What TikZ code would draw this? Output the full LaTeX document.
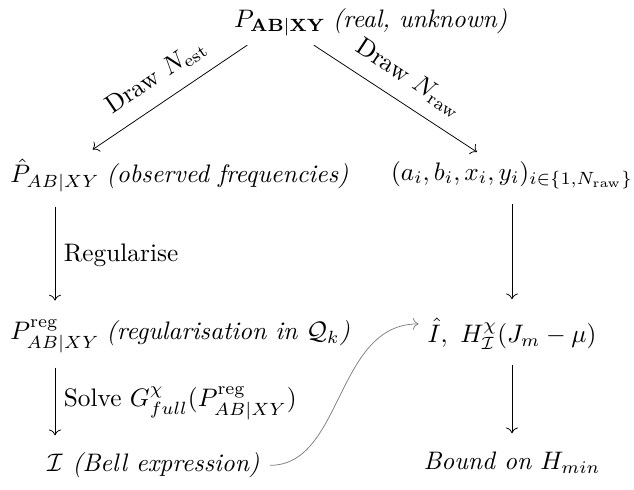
\documentclass[tikz,border=0pt]{standalone}
\usepackage{amsmath,amssymb}
\usepackage{tikz}
\usetikzlibrary{positioning,arrows.meta}

\tikzset{
  note/.style={anchor=base west, inner xsep=0pt, font=\itshape},
  flow/.style={->, line width=0.3pt},
  down/.style={flow, shorten <=2.5pt, shorten >=4pt},
  feedback/.style={->, gray, line width=0.3pt, shorten <=4pt},
}

\begin{document}
\begin{tikzpicture}[x=0.395pt,y=-0.395pt]
  \useasboundingbox (0,0) rectangle (634,489);

  \node (real) at (280,23) {$P_{\mathbf{AB|XY}}$};
  \node[note, xshift=-1pt] (realnote) at (real.base east) {(real, unknown)};

  \node (phat) at (55,175) {$\hat{P}_{AB|XY}$};
  \node[note, xshift=-1pt] (phatnote) at (phat.base east) {(observed frequencies)};
  \node (raw) at (512,175) {$(a_i,b_i,x_i,y_i)_{i\in\{1,N_{\mathrm{raw}}\}}$};

  \node (preg) at (55,336) {$P^{\mathrm{reg}}_{AB|XY}$};
  \node[note, xshift=-1pt] (pregnote) at (preg.base east) {(regularisation in $\mathcal{Q}_k$)};
  \node (ihat) at (512,334) {$\hat{I},\ H^{\chi}_{\mathcal{I}}(J_m-\mu)$};

  \node (bell) at (55,463) {$\mathcal{I}$};
  \node[note] (bellnote) at (bell.base east) {(Bell expression)};
  \node (bound) at (512,463) {\textit{Bound on} $H_{min}$};

  \draw[flow] (real) -- node[above=2pt, sloped] {Draw $N_{\mathrm{est}}$} (phat);
  \draw[flow] (real) -- node[above=2pt, sloped] {Draw $N_{\mathrm{raw}}$} (raw);
  \draw[down] (phat) -- node[right] {Regularise} (preg);
  \draw[down] (preg) -- node[right] {Solve $G^{\chi}_{full}(P^{\mathrm{reg}}_{AB|XY})$} (bell);
  \draw[down] (raw) -- (ihat);
  \draw[down] (ihat) -- (bound);
  \draw[feedback] (bellnote.east) to[out=0, in=180] ([yshift=4pt]ihat.west);
\end{tikzpicture}
\end{document}
